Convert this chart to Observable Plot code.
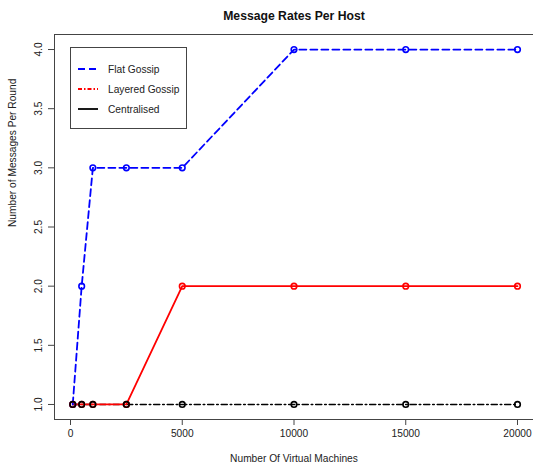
<!DOCTYPE html>
<html>
<head>
<meta charset="utf-8">
<script src="https://cdn.jsdelivr.net/npm/d3@7"></script>
<script src="https://cdn.jsdelivr.net/npm/@observablehq/plot@0.6"></script>
<style>
  html, body { margin: 0; padding: 0; background: #fff; }
  svg { display: block; }
</style>
</head>
<body>
<div id="chart"></div>
<script>
const vms = [100, 500, 1000, 2500, 5000, 10000, 15000, 20000];
const flatGossip = [1, 2, 3, 3, 3, 4, 4, 4];
const layeredGossip = [1, 1, 1, 1, 2, 2, 2, 2];
const centralised = [1, 1, 1, 1, 1, 1, 1, 1];
const xTicks = [0, 5000, 10000, 15000, 20000];
const yTicks = [1.0, 1.5, 2.0, 2.5, 3.0, 3.5, 4.0];
const seriesNames = ["Flat Gossip", "Layered Gossip", "Centralised"];
const title = "Message Rates Per Host";
const xLabel = "Number Of Virtual Machines";
const yLabel = "Number of Messages Per Round";

const flatData = vms.map((x, i) => ({x, y: flatGossip[i]}));
const layeredData = vms.map((x, i) => ({x, y: layeredGossip[i]}));
const centralData = vms.map((x, i) => ({x, y: centralised[i]}));

const font = "Liberation Sans, Arial, Helvetica, sans-serif";
const fs = 10.2;

const plot = Plot.plot({
  width: 533,
  height: 467,
  marginLeft: 54,
  marginTop: 34,
  marginBottom: 48,
  marginRight: 0,
  style: {fontFamily: font, fontSize: fs + "px", color: "#222", background: "#fff"},
  x: {domain: [-716, 20716]},
  y: {domain: [0.873, 4.127]},
  marks: [
    Plot.frame({stroke: "#444", strokeWidth: 1}),
    Plot.axisX({ticks: xTicks, tickSize: 6, tickPadding: 4, tickFormat: d => String(d), label: null, stroke: "#444", fill: "#222", fontSize: fs}),
    Plot.axisY({ticks: yTicks, tickSize: 6, tickFormat: () => "", label: null, stroke: "#444"}),
    Plot.text(yTicks, {y: d => d, text: d => d.toFixed(1), frameAnchor: "left", dx: -16, rotate: -90, textAnchor: "middle", fill: "#222", fontSize: fs}),
    Plot.text([xLabel], {frameAnchor: "bottom", dy: 42, fill: "#222", fontSize: fs}),
    Plot.text([yLabel], {frameAnchor: "left", dx: -42, rotate: -90, fill: "#222", fontSize: fs}),
    Plot.text([title], {frameAnchor: "top", dy: -23, fill: "#111", fontSize: 12.2, fontWeight: "bold"}),
    Plot.line(centralData, {x: "x", y: "y", stroke: "#000", strokeWidth: 1.6, strokeDasharray: "6,3,1.5,3"}),
    Plot.line(layeredData, {x: "x", y: "y", stroke: "#ff0000", strokeWidth: 1.8}),
    Plot.line(flatData, {x: "x", y: "y", stroke: "#0000ff", strokeWidth: 1.8, strokeDasharray: "7,4"}),
    Plot.dot(flatData, {x: "x", y: "y", r: 2.8, stroke: "#0000ff", strokeWidth: 1.6, fill: "none"}),
    Plot.dot(layeredData, {x: "x", y: "y", r: 2.8, stroke: "#ff0000", strokeWidth: 1.6, fill: "none"}),
    Plot.dot(centralData, {x: "x", y: "y", r: 2.8, stroke: "#000", strokeWidth: 1.6, fill: "none"})
  ]
});

// Legend
const svg = d3.select(plot);
const lg = svg.append("g").attr("font-family", font).attr("font-size", fs).attr("text-anchor", "start");
lg.append("rect").attr("x", 70.5).attr("y", 47.5).attr("width", 116).attr("height", 81)
  .attr("fill", "#fff").attr("stroke", "#444").attr("stroke-width", 1);
const legendStyles = [
  {stroke: "#0000ff", dash: "7,4"},
  {stroke: "#ff0000", dash: "4,2,1.5,2"},
  {stroke: "#000", dash: null}
];
seriesNames.forEach((name, i) => {
  const yy = 69 + i * 20;
  const ln = lg.append("line").attr("x1", 78).attr("x2", 98).attr("y1", yy).attr("y2", yy)
    .attr("stroke", legendStyles[i].stroke).attr("stroke-width", 1.8);
  if (legendStyles[i].dash) ln.attr("stroke-dasharray", legendStyles[i].dash);
  lg.append("text").attr("x", 108).attr("y", yy).attr("dy", "0.35em").attr("text-anchor", "start").attr("fill", "#222").text(name);
});

document.getElementById("chart").appendChild(plot);
</script>
</body>
</html>
